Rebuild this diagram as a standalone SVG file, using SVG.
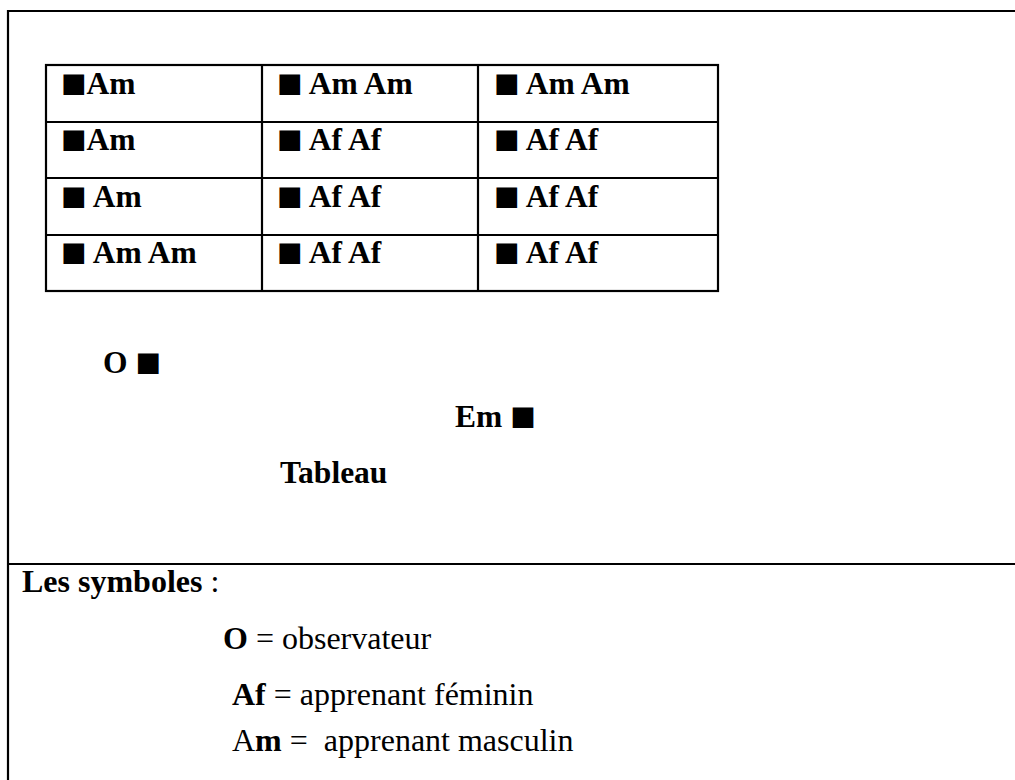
<svg xmlns="http://www.w3.org/2000/svg" width="1015" height="780" viewBox="0 0 1015 780">
<style>
.ln{stroke:#000;stroke-width:2.2;fill:none}
.cell{font-family:"Liberation Serif","Times New Roman",serif;font-weight:bold;font-size:31.5px;fill:#000}
.sq{font-family:"DejaVu Sans",sans-serif;font-weight:normal;font-size:27px}
.lg{font-family:"Liberation Serif","Times New Roman",serif;font-size:32px;fill:#000}
.b{font-weight:bold}
</style>
<rect width="1015" height="780" fill="#fff"/>
<g id="frame">
<path class="ln" d="M8 780 V11 H1015"/>
<path class="ln" d="M8 564 H1015"/>
</g>
<g id="table">
<rect class="ln" x="46" y="65" width="672" height="226"/>
<path class="ln" d="M262 65 V291 M478 65 V291 M46 122 H718 M46 178 H718 M46 235 H718"/>
<text class="cell" x="61" y="94"><tspan class="sq" dy="-2">■</tspan><tspan dy="2">Am</tspan></text>
<text class="cell" x="277" y="94" xml:space="preserve"><tspan class="sq" dy="-2">■</tspan><tspan dy="2"> Am Am</tspan></text>
<text class="cell" x="494" y="94" xml:space="preserve"><tspan class="sq" dy="-2">■</tspan><tspan dy="2"> Am Am</tspan></text>
<text class="cell" x="61" y="150"><tspan class="sq" dy="-2">■</tspan><tspan dy="2">Am</tspan></text>
<text class="cell" x="277" y="150" xml:space="preserve"><tspan class="sq" dy="-2">■</tspan><tspan dy="2"> Af Af</tspan></text>
<text class="cell" x="494" y="150" xml:space="preserve"><tspan class="sq" dy="-2">■</tspan><tspan dy="2"> Af Af</tspan></text>
<text class="cell" x="61" y="207" xml:space="preserve"><tspan class="sq" dy="-2">■</tspan><tspan dy="2"> Am</tspan></text>
<text class="cell" x="277" y="207" xml:space="preserve"><tspan class="sq" dy="-2">■</tspan><tspan dy="2"> Af Af</tspan></text>
<text class="cell" x="494" y="207" xml:space="preserve"><tspan class="sq" dy="-2">■</tspan><tspan dy="2"> Af Af</tspan></text>
<text class="cell" x="61" y="263" xml:space="preserve"><tspan class="sq" dy="-2">■</tspan><tspan dy="2"> Am Am</tspan></text>
<text class="cell" x="277" y="263" xml:space="preserve"><tspan class="sq" dy="-2">■</tspan><tspan dy="2"> Af Af</tspan></text>
<text class="cell" x="494" y="263" xml:space="preserve"><tspan class="sq" dy="-2">■</tspan><tspan dy="2"> Af Af</tspan></text>
</g>
<g id="observer"><text class="cell" x="103" y="373" xml:space="preserve">O <tspan class="sq" dy="-2">■</tspan></text></g>
<g id="em"><text class="cell" x="455" y="427" xml:space="preserve">Em <tspan class="sq" dy="-2">■</tspan></text></g>
<g id="caption"><text class="cell" x="280" y="483">Tableau</text></g>
<g id="legend">
<text class="lg" x="22" y="592"><tspan class="b">Les symboles</tspan> :</text>
<text class="lg" x="223" y="649"><tspan class="b">O</tspan> = observateur</text>
<text class="lg" x="232" y="705"><tspan class="b">Af</tspan> = apprenant féminin</text>
<text class="lg" x="232" y="751" xml:space="preserve">A<tspan class="b">m</tspan> =  apprenant masculin</text>
</g>
</svg>
